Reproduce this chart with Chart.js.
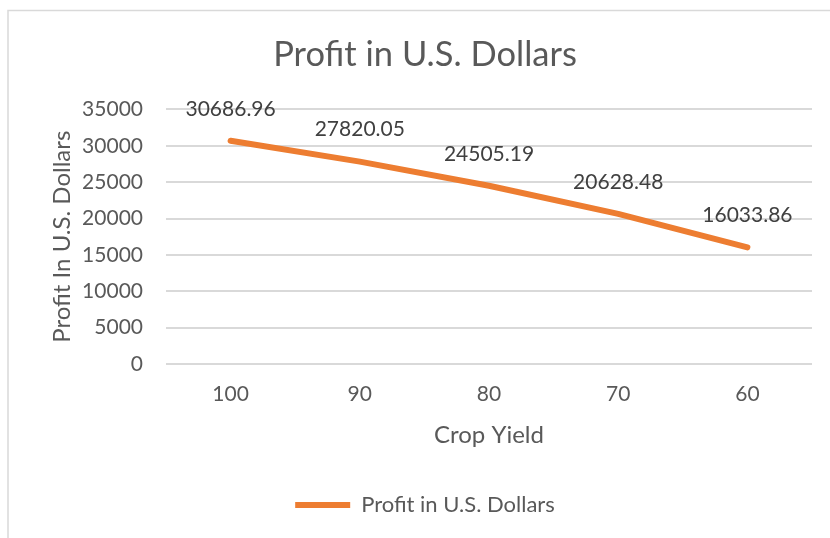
<!DOCTYPE html>
<html>
<head>
<meta charset="utf-8">
<script src="https://cdn.jsdelivr.net/npm/chart.js@4.4.0/dist/chart.umd.min.js"></script>
<style>
  html, body { margin: 0; padding: 0; background: #ffffff; }
  #wrap { position: relative; width: 830px; height: 538px; }
</style>
</head>
<body>
<div id="wrap"><canvas id="c" width="830" height="538"></canvas></div>
<script>
const categories = ['100', '90', '80', '70', '60'];
const profitValues = [30686.96, 27820.05, 24505.19, 20628.48, 16033.86];
const seriesName = 'Profit in U.S. Dollars';
const chartTitle = 'Profit in U.S. Dollars';
const yAxisTitle = 'Profit In U.S. Dollars';
const xAxisTitle = 'Crop Yield';
const yTickValues = [0, 5000, 10000, 15000, 20000, 25000, 30000, 35000];

const FONT = "Lato, 'Open Sans', sans-serif";
const TEXT = '#595959';

const borderPlugin = {
  id: 'frame',
  beforeDraw(chart) {
    const ctx = chart.ctx;
    ctx.save();
    ctx.fillStyle = '#ffffff';
    ctx.fillRect(0, 0, chart.width, chart.height);
    ctx.strokeStyle = '#d9d9d9';
    ctx.lineWidth = 1.5;
    ctx.beginPath();
    ctx.moveTo(8, chart.height);
    ctx.lineTo(8, 10.5);
    ctx.lineTo(chart.width, 10.5);
    ctx.stroke();
    ctx.restore();
  }
};

const labelPlugin = {
  id: 'dataLabels',
  afterDatasetsDraw(chart) {
    const ctx = chart.ctx;
    const meta = chart.getDatasetMeta(0);
    const ds = chart.data.datasets[0];
    ctx.save();
    ctx.font = "21px " + FONT;
    ctx.fillStyle = '#404040';
    ctx.textAlign = 'center';
    ctx.textBaseline = 'middle';
    meta.data.forEach((pt, i) => {
      ctx.fillText(ds.data[i].toFixed(2), pt.x, pt.y - 32);
    });
    ctx.restore();
  }
};

new Chart(document.getElementById('c'), {
  type: 'line',
  data: {
    labels: categories,
    datasets: [{
      label: seriesName,
      data: profitValues,
      borderColor: '#ED7D31',
      backgroundColor: '#ED7D31',
      borderWidth: 6,
      borderCapStyle: 'round',
      borderJoinStyle: 'round',
      pointRadius: 0,
      pointHoverRadius: 0,
      tension: 0,
      fill: false
    }]
  },
  options: {
    responsive: false,
    animation: false,
    events: [],
    layout: { padding: { top: 0, right: 18, bottom: 12, left: 38 } },
    plugins: {
      title: {
        display: true,
        text: chartTitle,
        color: TEXT,
        font: { family: FONT, size: 34.5, weight: 'normal', lineHeight: 1.2 },
        padding: { top: 34, bottom: 34 }
      },
      legend: {
        position: 'bottom',
        labels: {
          color: TEXT,
          font: { family: FONT, size: 22 },
          usePointStyle: true,
          pointStyle: 'line',
          pointStyleWidth: 55,
          padding: 10
        }
      },
      tooltip: { enabled: false }
    },
    scales: {
      x: {
        offset: true,
        grid: { display: false, drawTicks: false },
        border: { display: false },
        ticks: { color: TEXT, font: { family: FONT, size: 21 }, padding: 18 },
        title: {
          display: true,
          text: xAxisTitle,
          color: TEXT,
          font: { family: FONT, size: 24, lineHeight: 1.2 },
          padding: { top: 10, bottom: 34 }
        },
        afterFit(scale) { scale.height = 120; }
      },
      y: {
        min: 0,
        max: 35000,
        afterBuildTicks(scale) { scale.ticks = yTickValues.map(v => ({ value: v })); },
        grid: { color: '#d9d9d9', lineWidth: 2, drawTicks: false },
        border: { display: false },
        ticks: {
          color: TEXT,
          font: { family: FONT, size: 21 },
          padding: 23,
          callback: (v) => String(v)
        },
        title: {
          display: true,
          text: yAxisTitle,
          color: TEXT,
          font: { family: FONT, size: 24, lineHeight: 1.2 },
          padding: { top: 10, bottom: 0 }
        },
        afterFit(scale) { scale.width = 128; }
      }
    }
  },
  plugins: [borderPlugin, labelPlugin]
});
</script>
</body>
</html>
